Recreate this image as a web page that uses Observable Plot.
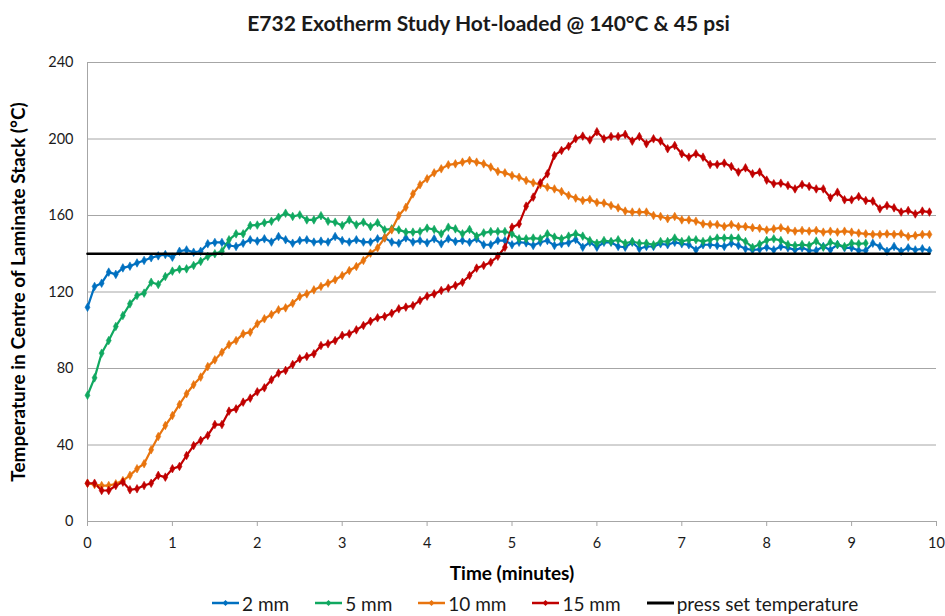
<!DOCTYPE html>
<html><head><meta charset="utf-8">
<script src="https://cdn.jsdelivr.net/npm/d3@7"></script>
<script src="https://cdn.jsdelivr.net/npm/@observablehq/plot@0.6"></script>
<style>
body{margin:0;background:#fff;font-family:Lato,"Open Sans",sans-serif;}
#wrap{width:945px;}
#title{height:45px;line-height:46px;text-align:center;font-weight:bold;font-size:21px;color:#1a1a1a;padding-left:32px;box-sizing:border-box;}
#chart svg{display:block;}
#legend{height:26px;display:flex;align-items:center;padding-left:212px;font-size:19px;color:#1a1a1a;}
.item{display:flex;align-items:center;margin-right:26px;}
.item svg{margin-right:3px;}
</style></head><body>
<div id="wrap">
<div id="title">E732 Exotherm Study Hot-loaded @ 140°C &amp; 45 psi</div>
<div id="chart"></div>
<div id="legend"></div>
</div>
<script>
// sampling interval: 5 seconds = 1/12 minute
const stepMinutes = 1 / 12;
const seriesNames = ["2 mm", "5 mm", "10 mm", "15 mm"];
const seriesColors = ["#0070C0", "#10A860", "#E8740E", "#C00000"];
const setTemp = 140;
const setTempLabel = "press set temperature";
const xTicks = [0,1,2,3,4,5,6,7,8,9,10];
const yTicks = [0,40,80,120,160,200,240];

const mm2 = [112,122.9,124.6,130.4,129.2,132.6,133.5,135.2,136.5,137.9,138.9,139.6,138.2,141.3,142,140.8,141.3,145.2,145.9,145.9,
144.3,143.8,145.5,147.3,146.6,147.8,146.1,149,147.3,145.5,146.9,147.3,146.1,146.6,146.1,149,146.9,146.1,147.3,146.1,
146.1,147.8,148.3,146.1,145.5,148.3,146.1,146.9,145.7,147.8,145.2,147.8,146.4,146.9,146,147.8,144.7,144.7,146.9,146.9,
144.7,146,145.7,144.3,146,146.9,144.3,145.2,145.7,147.5,143.4,146,143.4,146,146,143.8,143.4,146,142.6,143.8,
143.8,145.2,144.7,146,145.2,144.7,142,144.7,144.7,144.3,143.8,145.5,144.3,142.6,142,142.3,143.4,142,143.8,143.1,
142,143.1,141.7,141.7,143.8,142,144.8,143.1,143.1,141.7,141.7,145.5,143.8,141.3,143.8,141.3,143.1,142,142.6,141.7];

const mm5 = [66,75.1,88,94.6,102,107.7,113.8,118.2,119.4,125.1,123.9,128.1,130.9,131.9,132.1,133.9,136,138.6,140,141.3,
147.3,150.4,150.4,154.8,155,156.2,157,159.1,161.2,159.5,160.3,157.7,157.7,159.9,157,156.5,154.8,157.7,155.1,156.5,
154.2,156.2,152.5,153,152.5,151.3,151.3,151.6,153.4,152.7,150.4,153.9,153,150.4,152.7,149.2,150.9,151.6,151.6,151.6,
150.4,147.8,147.8,148.2,147.8,150.4,148.7,147.8,149.2,150.4,149.2,146.9,145.5,146.9,146.4,147.3,145.5,146.4,145.5,145.5,
144.7,146.4,146.4,148.2,146.4,147.3,147.3,146.4,147.3,148.2,148.2,148.2,148.2,146.4,143.3,145,147,147.8,146.9,144.8,
144.3,144.8,144.3,146.6,143.4,146,144.8,143.8,145.5,145.2,145.5];

const mm10 = [20,19.3,18.8,18.8,19.7,21.4,24.1,27.6,30.2,37.5,44.4,50.2,55.4,61.2,66.8,71.5,75.5,81,84.5,88.5,
92.5,94.6,98.1,99,103.4,106,108.2,110.7,111.7,114.1,117.6,119,121.1,122.9,124.6,126.4,128.6,131.2,133.3,136.5,
140.3,143.1,148.3,152.5,160,164.3,171.3,176.1,179.2,182.3,184.4,186.5,187,187.9,188.8,187.9,187,185.3,183,182.3,
180.9,180,178.3,177.1,176.1,174.8,173.9,172.5,170.5,169.1,167.8,168.4,166.8,166.5,165.2,164,162.3,161.8,161.8,161.8,
160,159.5,158.3,159.5,157.7,157.7,157,155.6,155.3,155.3,154.2,155.3,154.2,154.2,153.6,153.3,152.4,153,153.6,152.5,
151.8,152.2,151.8,152.2,151.3,151.8,151.3,151.8,151.3,150.8,150.4,150.1,150.1,150.4,150.1,150.4,149,149.5,150.1,150.1];

const mm15 = [20,20,16.2,16.2,18.8,20.6,16.6,17.1,18.8,20,24.1,23.2,27.6,28.8,34.5,39.7,42.4,45,50.7,50.7,
57.7,58.9,62.4,64.5,67.8,69.9,74.1,77.6,79,82.1,85.1,86.3,87.7,92,92.9,94.6,97.3,98.1,100.2,102.5,
104.7,106.5,107.2,108.9,111.2,112.1,112.9,115.6,117.8,119,120.8,122,123.4,125.1,128.6,132.5,133.9,135.6,138.7,143.4,
153.9,155.6,164.9,169.6,177.1,181.8,191.4,194,196.2,200.1,201.5,199.5,203.8,200.1,201.3,201.3,202.4,198.9,201.3,197.5,
200.1,198.9,194.9,196.6,192.3,190.5,192.3,190.5,186.7,186.7,187.4,185.6,182.7,184.9,181.8,182.7,178.5,176.6,176.9,175.7,
173.9,176.2,175.2,173.9,173.9,169.3,172.2,168.2,168.2,169.9,167.8,167.5,163.5,165.2,164,161.8,162.6,160.8,162.3,161.8];

const allSeries = [mm2, mm5, mm10, mm15];
const rows = [];
allSeries.forEach((arr, k) => arr.forEach((v, i) => rows.push({t: i * stepMinutes, v, s: seriesNames[k]})));
const tEnd = (mm2.length - 1) * stepMinutes;
const refRows = [{t: 0, v: setTemp}, {t: tEnd, v: setTemp}];

const chart = Plot.plot({
  width: 945, height: 545,
  marginLeft: 87, marginRight: 9, marginTop: 17, marginBottom: 69,
  style: {fontFamily: "Lato, 'Open Sans', sans-serif", fontSize: "14.5px", background: "#fff"},
  x: {domain: [0, 10], label: null},
  y: {domain: [0, 240], label: null},
  color: {domain: seriesNames, range: seriesColors},
  marks: [
    Plot.gridY(yTicks, {stroke: "#a6a6a6", strokeOpacity: 1}),
    Plot.ruleX([0], {stroke: "#a6a6a6"}),
    Plot.ruleY([0], {stroke: "#a6a6a6"}),
    Plot.axisX(xTicks, {tickSize: 5, tickPadding: 11, stroke: "#a6a6a6", fill: "#1a1a1a", label: null}),
    Plot.axisY(yTicks, {tickSize: 0, tickPadding: 14, fill: "#1a1a1a", label: null}),
    Plot.line(rows, {x: "t", y: "v", z: "s", stroke: "s", strokeWidth: 2.2}),
    Plot.dot(rows, {x: "t", y: "v", fill: "s", stroke: "s", symbol: "diamond", r: 2.6, strokeWidth: 0.6}),
    Plot.line(refRows, {x: "t", y: "v", stroke: "#000", strokeWidth: 2.6}),
    Plot.text(["Time (minutes)"], {frameAnchor: "bottom", dy: 58, fontWeight: "bold", fontSize: 19, fill: "#000"}),
    Plot.text(["Temperature in Centre of Laminate Stack (°C)"], {frameAnchor: "left", textAnchor: "middle", dx: -69, rotate: -90, fontWeight: "bold", fontSize: 19, fill: "#000"})
  ]
});
document.getElementById("chart").appendChild(chart);

const legend = document.getElementById("legend");
const legendItems = seriesNames.map((n, i) => ({name: n, color: seriesColors[i], marker: true}))
  .concat([{name: setTempLabel, color: "#000", marker: false}]);
legendItems.forEach(it => {
  const d = document.createElement("div");
  d.className = "item";
  d.innerHTML = `<svg width="27" height="12"><line x1="0" x2="27" y1="6" y2="6" stroke="${it.color}" stroke-width="${it.marker ? 2.5 : 3}"/>` +
    (it.marker ? `<path d="M13.5,3 L16.5,6 L13.5,9 L10.5,6 Z" fill="${it.color}"/>` : "") + `</svg><span>${it.name}</span>`;
  legend.appendChild(d);
});
</script>
</body></html>
